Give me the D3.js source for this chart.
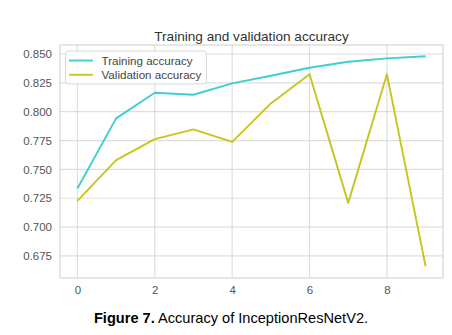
<!DOCTYPE html>
<html><head><meta charset="utf-8">
<script src="https://cdn.jsdelivr.net/npm/d3@7"></script>
<style>body{margin:0;background:#fff}svg{display:block}</style>
</head><body>
<svg id="c" width="452" height="335"></svg>
<script>
const epochs = [0,1,2,3,4,5,6,7,8,9];
const trainAcc = [0.7335,0.7942,0.8164,0.8147,0.8245,0.8312,0.8381,0.8433,0.8462,0.8480];
const valAcc = [0.7227,0.7580,0.7763,0.7847,0.7739,0.8072,0.8324,0.7210,0.8325,0.6660];
const xTicks = [0,2,4,6,8];
const yTicks = [0.675,0.700,0.725,0.750,0.775,0.800,0.825,0.850];
const seriesNames = ["Training accuracy","Validation accuracy"];
const colors = ["#3fcfd0","#c6c61e"];

const svg = d3.select("#c");
const L=60,R=443,T=45,B=278;
const x = d3.scaleLinear().domain([-0.45,9.45]).range([L,R]);
const y = d3.scaleLinear().domain([0.6559,0.8578]).range([B,T]);

const font = "'Liberation Sans', Arial, sans-serif";
// grid
const g = svg.append("g");
g.selectAll(".vx").data(xTicks).enter().append("line")
 .attr("x1",d=>x(d)).attr("x2",d=>x(d)).attr("y1",T).attr("y2",B)
 .attr("stroke","#dedede").attr("stroke-width",1.2);
g.selectAll(".hy").data(yTicks).enter().append("line")
 .attr("y1",d=>y(d)).attr("y2",d=>y(d)).attr("x1",L).attr("x2",R)
 .attr("stroke","#dedede").attr("stroke-width",1.2);
g.append("rect").attr("x",L).attr("y",T).attr("width",R-L).attr("height",B-T)
 .attr("fill","none").attr("stroke","#d6d6d6").attr("stroke-width",1.2);

// axes labels
const xa = d3.axisBottom(x).tickValues(xTicks).tickSize(0).tickPadding(8).tickFormat(d3.format("d"));
const ya = d3.axisLeft(y).tickValues(yTicks).tickSize(0).tickPadding(8).tickFormat(d3.format(".3f"));
const gx = svg.append("g").attr("transform",`translate(0,${B})`).call(xa);
const gy = svg.append("g").attr("transform",`translate(${L},0)`).call(ya);
[gx,gy].forEach(a=>{a.select(".domain").remove();
 a.selectAll("text").attr("fill","#555").style("font-family",font).style("font-size","11.5px");});

// lines
const line = d3.line().x((d,i)=>x(epochs[i])).y(d=>y(d));
[trainAcc,valAcc].forEach((s,k)=>{
 svg.append("path").datum(s).attr("d",line).attr("fill","none")
  .attr("stroke",colors[k]).attr("stroke-width",1.9).attr("stroke-linejoin","round");
});

// title
svg.append("text").attr("x",(L+R)/2).attr("y",40.5).attr("text-anchor","middle")
 .attr("fill","#333").style("font-family",font).style("font-size","13.6px")
 .text("Training and validation accuracy");

// legend
const lg = svg.append("g");
lg.append("rect").attr("x",65.5).attr("y",51).attr("width",141).attr("height",33).attr("rx",3)
 .attr("fill","#fff").attr("fill-opacity",0.85).attr("stroke","#d8d8d8");
seriesNames.forEach((n,i)=>{
 const yy = 60.5+i*14.3;
 lg.append("line").attr("x1",69).attr("x2",93).attr("y1",yy).attr("y2",yy)
  .attr("stroke",colors[i]).attr("stroke-width",1.9);
 lg.append("text").attr("x",101.5).attr("y",yy+4).attr("fill","#444")
  .style("font-family",font).style("font-size","11.6px").text(n);
});

// caption
const cap = svg.append("text").attr("x",231).attr("y",323).attr("text-anchor","middle")
 .style("font-family",font).style("font-size","14.6px").attr("fill","#000");
cap.append("tspan").attr("font-weight","bold").text("Figure 7.");
cap.append("tspan").text(" Accuracy of InceptionResNetV2.");
</script>
</body></html>
